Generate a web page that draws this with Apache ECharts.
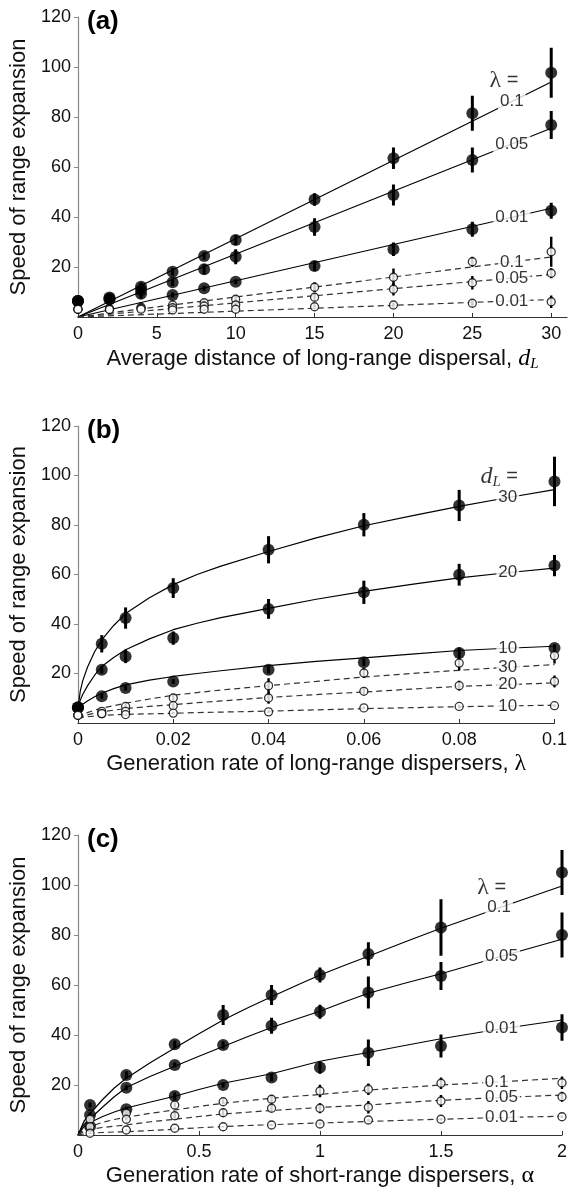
<!DOCTYPE html>
<html><head><meta charset="utf-8">
<script src="https://cdn.jsdelivr.net/npm/echarts@6/dist/echarts.min.js"></script>
<style>html,body{margin:0;padding:0;background:#fff}#c{width:570px;height:1198px}</style>
</head><body><div id="c"></div>
<script>
// ---------- Panel (a): speed vs d_L ----------
const aX = [0, 2, 4, 6, 8, 10, 15, 20, 25, 30];
const aFilled01  = [6.4, 7.8, 12.1, 18.1, 24.4, 30.8, 47.0, 63.5, 81.5, 97.7];
const aFilled005 = [6.4, 7.3, 10.8, 13.9, 19.1, 24.1, 36.0, 48.8, 62.8, 76.8];
const aFilled001 = [6.4, 7.0, 9.3, 8.8, 11.5, 14.1, 20.4, 27.1, 35.1, 42.5];
const aOpen01  = [3.1, 3.3, 3.9, 4.8, 5.7, 7.1, 11.9, 15.9, 22.1, 26.1];
const aOpen005 = [3.1, 3.1, 3.5, 3.7, 4.4, 4.8, 7.9, 11.1, 13.7, 17.5];
const aOpen001 = [3.1, 3.0, 3.1, 2.8, 3.1, 3.1, 4.1, 4.8, 5.5, 6.1];
const aFilled01Err  = [1, 1, 1.5, 1.5, 1.5, 2, 2.5, 4.3, 7, 10];
const aFilled005Err = [1, 1, 3, 1.5, 2, 3, 3.5, 4.2, 5, 5.6];
const aFilled001Err = [1, 1, 2, 1, 1, 1, 2, 2.7, 3, 3.2];
const aOpen01Err  = [0.5, 0.5, 1, 1, 1, 1.5, 2, 3.5, 2, 6];
const aOpen005Err = [0.5, 0.5, 0.5, 0.5, 1, 1, 1.5, 2.5, 2.7, 2];
const aOpen001Err = [0.5, 0.5, 0.5, 0.5, 0.5, 0.5, 1, 1, 1.2, 2.5];
const aLineX = [0, 30];
const aLine01 = [0, 94], aLine005 = [0, 75.5], aLine001 = [0, 43.5];
const aDash01 = [0, 24], aDash005 = [0, 17], aDash001 = [0, 7];
const aTicks = [0, 5, 10, 15, 20, 25, 30];
const aLabelText = ['0.1', '0.05', '0.01', '0.1', '0.05', '0.01'];
const aLabelX = [27.5, 27.5, 27.5, 27.5, 27.5, 27.5];
const aLabelY = [86.2, 69.2, 39.9, 22.0, 15.6, 6.4];

// ---------- Panel (b): speed vs lambda ----------
const bX = [0, 0.005, 0.01, 0.02, 0.04, 0.06, 0.08, 0.1];
const bFilled30 = [6.3, 32.0, 42.4, 54.5, 70.0, 80.1, 87.9, 97.6];
const bFilled20 = [6.3, 21.5, 26.9, 34.3, 46.1, 52.8, 59.9, 63.6];
const bFilled10 = [6.3, 10.8, 14.1, 16.8, 21.5, 24.5, 28.3, 30.3];
const bOpen30 = [3.1, 4.7, 6.7, 10.1, 15.1, 20.2, 24.2, 27.2];
const bOpen20 = [3.1, 3.8, 4.7, 7.0, 10.1, 12.8, 15.1, 16.8];
const bOpen10 = [3.1, 3.8, 3.4, 4.0, 4.5, 6.1, 6.7, 7.0];
const bFilled30Err = [1, 3.5, 4.3, 4, 5.5, 4.7, 6.3, 10];
const bFilled20Err = [1, 1.5, 2.7, 2.7, 4, 4.7, 4.4, 4.3];
const bFilled10Err = [1, 1, 1, 1, 1.5, 1.5, 2.2, 1.5];
const bOpen30Err = [0.5, 1, 1.5, 1.5, 3, 2, 3, 3.2];
const bOpen20Err = [0.5, 0.5, 1, 1, 2.3, 1.5, 2, 2.4];
const bOpen10Err = [0.5, 0.5, 0.5, 0.5, 0.5, 0.5, 0.7, 0.5];
const bCurveX = [0, 0.0005, 0.001, 0.002, 0.0035, 0.005, 0.0075, 0.01, 0.015, 0.02, 0.025, 0.03, 0.04, 0.05, 0.06, 0.07, 0.08, 0.09, 0.1];
const bCurve30 = [6, 13, 17, 22.5, 28.8, 33.6, 39.4, 44.2, 50.6, 55.9, 60, 63.4, 69.3, 74.8, 79.7, 83.7, 87.5, 91.0, 94.3];
const bCurve20 = [6, 9.3, 11.5, 15, 19.3, 22.8, 26.5, 29.6, 34, 37.7, 40.3, 42.6, 46.3, 50, 53.2, 56, 58.6, 60.7, 62.6];
const bCurve10 = [6, 6.9, 7.6, 8.9, 10.6, 12.0, 13.9, 15.4, 17.3, 18.8, 20.0, 21.1, 23.2, 24.9, 26.3, 27.8, 29.3, 30.2, 31];
const bDash30 = [2, 2.8, 3.4, 4.2, 5.2, 6, 7, 8, 9.7, 11.2, 12.3, 13.3, 15.1, 16.8, 18.6, 20, 21.3, 22.5, 23.6];
const bDash20 = [2, 2.4, 2.8, 3.3, 4, 4.5, 5.2, 5.8, 6.7, 7.4, 8.2, 8.9, 10.3, 11.5, 12.5, 13.7, 14.8, 15.5, 16.2];
const bDash10 = [2, 2.1, 2.3, 2.5, 2.8, 3, 3.3, 3.5, 3.7, 3.9, 4.2, 4.4, 4.8, 5.3, 5.8, 6.2, 6.6, 6.9, 7.2];
const bTicks = [0, 0.02, 0.04, 0.06, 0.08, 0.1];
const bLabelText = ['30', '20', '10', '30', '20', '10'];
const bLabelX = [0.0902, 0.0902, 0.0902, 0.0902, 0.0902, 0.0902];
const bLabelY = [91.2, 60.8, 30.3, 22.6, 15.6, 6.9];

// ---------- Panel (c): speed vs alpha ----------
const cX = [0.05, 0.2, 0.4, 0.6, 0.8, 1, 1.2, 1.5, 2];
const cFilled01  = [12, 24, 36.3, 48, 56, 64, 72.4, 83, 105];
const cFilled005 = [8, 18.9, 28, 36, 43.7, 49.3, 57, 63.6, 80];
const cFilled001 = [3.5, 10.3, 15.6, 20, 23, 27, 32.9, 35.6, 43];
const cOpen01  = [6.3, 8.7, 12, 13.3, 14.3, 17.6, 18.3, 20.7, 20.9];
const cOpen005 = [3.3, 6.3, 7.7, 8.9, 10.7, 10.7, 11.1, 13.6, 15.3];
const cOpen001 = [0.7, 2, 2.7, 3.3, 4, 4.4, 6, 6.3, 7.3];
const cFilled01Err  = [1, 1.5, 1.5, 4, 4, 3, 4.7, 11.3, 9];
const cFilled005Err = [1, 1, 1, 1.5, 3.2, 2.8, 6.4, 5.6, 9];
const cFilled001Err = [1, 1, 1.5, 1, 1.5, 2.5, 5.3, 4.6, 5.3];
const cOpen01Err  = [0.5, 0.5, 1, 1, 1.7, 2.5, 2.3, 2.3, 2.5];
const cOpen005Err = [0.5, 0.5, 1.2, 1.7, 1.5, 2, 2.5, 2.4, 2];
const cOpen001Err = [0.3, 0.3, 0.3, 0.3, 0.5, 0.5, 0.5, 0.5, 0.5];
const cCurveX = [0, 0.025, 0.05, 0.1, 0.15, 0.2, 0.3, 0.4, 0.5, 0.6, 0.7, 0.8, 0.9, 1, 1.1, 1.2, 1.35, 1.5, 1.75, 2];
const cCurve01  = [0, 5.5, 8.5, 14, 18.8, 22.7, 29, 34.8, 40.5, 46, 50.8, 55.3, 59.7, 64, 67.8, 71.5, 77.2, 82.7, 91.2, 99.6];
const cCurve005 = [0, 4.3, 6.5, 11, 15.3, 19, 23.5, 27.5, 31.5, 35.4, 39.3, 43, 46.3, 49.5, 53.2, 56.7, 60.7, 64.5, 71.5, 78.3];
const cCurve001 = [0, 3.3, 5, 7.3, 9.2, 10.8, 13.2, 15.5, 18.2, 20.7, 22.6, 24.5, 27, 29.5, 31.3, 33, 35.8, 38.5, 42.5, 46];
const cDash01  = [0, 2.2, 3.3, 5, 6.2, 7.1, 8.7, 10, 11.4, 12.7, 13.7, 14.7, 15.5, 16.2, 17.1, 18, 19, 20, 21.3, 22.7];
const cDash005 = [0, 1.4, 2.2, 3, 3.5, 4, 5.3, 6.3, 7.4, 8.4, 9.1, 9.8, 10.4, 11, 11.5, 12, 13, 13.9, 15, 16];
const cDash001 = [0, 0.4, 0.7, 1, 1.2, 1.3, 1.8, 2.3, 2.9, 3.4, 3.8, 4.1, 4.5, 4.8, 5.1, 5.4, 5.9, 6.3, 7, 7.5];
const cTicks = [0, 0.5, 1, 1.5, 2];
const cLabelText = ['0.1', '0.05', '0.01', '0.1', '0.05', '0.01'];
const cLabelX = [1.74, 1.75, 1.75, 1.73, 1.75, 1.75];
const cLabelY = [91.0, 71.5, 42.5, 21.2, 15.0, 7.0];

const yTicks = [20, 40, 60, 80, 100, 120];

// ---------- build ----------
const FONT = 'Liberation Sans, Arial, Helvetica, sans-serif';
const SERIF = 'Liberation Serif, Times New Roman, serif';
const zip = (xs, ys) => xs.map((x, i) => [x, ys[i]]);
const zip3 = (xs, ys, es) => xs.map((x, i) => [x, ys[i], es[i]]);

const panels = [
  {
    grid: { left: 77, top: 17, width: 490, height: 300 }, xMax: 31, ticks: aTicks, tag: '(a)',
    xName: 'Average distance of long-range dispersal, {i|d}{sub|L}',
    pts: [[aX, aFilled01, aFilled01Err, 1], [aX, aFilled005, aFilled005Err, 1], [aX, aFilled001, aFilled001Err, 1],
          [aX, aOpen01, aOpen01Err, 0], [aX, aOpen005, aOpen005Err, 0], [aX, aOpen001, aOpen001Err, 0]],
    curves: [[aLineX, aLine01, 0], [aLineX, aLine005, 0], [aLineX, aLine001, 0],
             [aLineX, aDash01, 1], [aLineX, aDash005, 1], [aLineX, aDash001, 1]],
    labels: [aLabelX, aLabelY, aLabelText],
    head: { x: 27.0, y: 94.5, text: '{g|λ} =' }
  },
  {
    grid: { left: 77, top: 426, width: 482, height: 297 }, xMax: 0.1, ticks: bTicks, tag: '(b)',
    xName: 'Generation rate of long-range dispersers, {g|λ}',
    pts: [[bX, bFilled30, bFilled30Err, 1], [bX, bFilled20, bFilled20Err, 1], [bX, bFilled10, bFilled10Err, 1],
          [bX, bOpen30, bOpen30Err, 0], [bX, bOpen20, bOpen20Err, 0], [bX, bOpen10, bOpen10Err, 0]],
    curves: [[bCurveX, bCurve30, 0], [bCurveX, bCurve20, 0], [bCurveX, bCurve10, 0],
             [bCurveX, bDash30, 1], [bCurveX, bDash20, 1], [bCurveX, bDash10, 1]],
    labels: [bLabelX, bLabelY, bLabelText],
    head: { x: 0.0884, y: 99.5, text: '{i|d}{sub|L} =' }
  },
  {
    grid: { left: 77, top: 835, width: 487, height: 300 }, xMax: 2, ticks: cTicks, tag: '(c)',
    xName: 'Generation rate of short-range dispersers, {g|α}',
    pts: [[cX, cFilled01, cFilled01Err, 1], [cX, cFilled005, cFilled005Err, 1], [cX, cFilled001, cFilled001Err, 1],
          [cX, cOpen01, cOpen01Err, 0], [cX, cOpen005, cOpen005Err, 0], [cX, cOpen001, cOpen001Err, 0]],
    curves: [[cCurveX, cCurve01, 0], [cCurveX, cCurve005, 0], [cCurveX, cCurve001, 0],
             [cCurveX, cDash01, 1], [cCurveX, cDash005, 1], [cCurveX, cDash001, 1]],
    labels: [cLabelX, cLabelY, cLabelText],
    head: { x: 1.71, y: 99, text: '{g|λ} =' }
  }
];

const richText = {
  g: { fontFamily: SERIF, fontSize: 24, color: '#000' },
  i: { fontFamily: SERIF, fontStyle: 'italic', fontSize: 24, color: '#000' },
  sub: { fontFamily: SERIF, fontStyle: 'italic', fontSize: 15, color: '#000', padding: [11, 0, 0, 0] }
};

const grids = [], xAxes = [], yAxes = [], series = [], graphics = [];
panels.forEach((p, k) => {
  grids.push(Object.assign({ containLabel: false }, p.grid));
  xAxes.push({
    type: 'value', gridIndex: k, min: 0, max: p.xMax,
    axisLine: { show: true, onZero: false, lineStyle: { color: '#333', width: 1.2 } },
    axisTick: { show: true, inside: true, length: 4, lineStyle: { color: '#333' }, customValues: p.ticks },
    axisLabel: { customValues: p.ticks, fontFamily: FONT, fontSize: 18, color: '#111', margin: 8 },
    splitLine: { show: false },
    name: p.xName, nameLocation: 'middle', nameGap: 29,
    nameTextStyle: { fontFamily: FONT, fontSize: 22, color: '#111', rich: richText }
  });
  yAxes.push({
    type: 'value', gridIndex: k, min: 0, max: 120, interval: 20,
    axisLine: { show: true, lineStyle: { color: '#888', width: 1.2 } },
    axisTick: { show: true, inside: false, length: 4, lineStyle: { color: '#888' }, customValues: yTicks },
    axisLabel: { customValues: yTicks, fontFamily: FONT, fontSize: 18, color: '#111', margin: 7 },
    splitLine: { show: false },
    name: 'Speed of range expansion', nameLocation: 'middle', nameGap: 45, nameRotate: 90,
    nameTextStyle: { fontFamily: FONT, fontSize: 22, color: '#111' }
  });
  p.curves.forEach(c => {
    series.push({
      type: 'line', xAxisIndex: k, yAxisIndex: k, data: zip(c[0], c[1]),
      showSymbol: false, symbol: 'none', smooth: false,
      lineStyle: c[2] ? { color: '#333', width: 1.2, type: [6, 4] } : { color: '#000', width: 1.2 },
      z: 2, silent: true, animation: false
    });
  });
  const L = p.labels;
  series.push({
    type: 'scatter', xAxisIndex: k, yAxisIndex: k, symbolSize: 1,
    itemStyle: { color: 'rgba(0,0,0,0)' }, z: 3, silent: true, animation: false,
    data: L[0].map((x, i) => ({
      value: [x, L[1][i]],
      label: { show: true, position: 'inside', formatter: L[2][i], backgroundColor: '#fff',
        padding: [0, 2], fontFamily: FONT, fontSize: 17, color: '#000' }
    }))
  });
  series.push({
    type: 'scatter', xAxisIndex: k, yAxisIndex: k, symbolSize: 1,
    itemStyle: { color: 'rgba(0,0,0,0)' }, z: 3, silent: true, animation: false,
    data: [{ value: [p.head.x, p.head.y],
      label: { show: true, position: 'inside', formatter: p.head.text, fontFamily: FONT, fontSize: 20,
        color: '#000', rich: richText } }]
  });
  p.pts.forEach(s => {
    const filled = s[3] === 1;
    series.push({
      type: 'custom', xAxisIndex: k, yAxisIndex: k, data: zip3(s[0], s[1], s[2]), z: 4, silent: true, animation: false,
      renderItem: (params, api) => {
        const x = api.value(0), y = api.value(1), e = api.value(2);
        const a = api.coord([x, y - e]), b = api.coord([x, y + e]);
        return { type: 'line', shape: { x1: a[0], y1: a[1], x2: b[0], y2: b[1] },
          style: { stroke: '#000', lineWidth: filled ? 3 : 2.4 } };
      }
    });
    series.push({
      type: 'scatter', xAxisIndex: k, yAxisIndex: k, data: zip(s[0], s[1]), z: 5, silent: true, animation: false,
      symbol: 'circle', symbolSize: filled ? 12 : 8,
      itemStyle: filled ? { color: '#000' } : { color: '#fff', borderColor: '#000', borderWidth: 1.3 }
    });
  });
  graphics.push({ type: 'text', left: p.grid.left + 10, top: p.grid.top - 8,
    style: { text: p.tag, fontFamily: FONT, fontWeight: 'bold', fontSize: 26, fill: '#000' } });
});

const chart = echarts.init(document.getElementById('c'), null, { renderer: 'canvas' });
chart.setOption({
  animation: false, backgroundColor: '#fff',
  grid: grids, xAxis: xAxes, yAxis: yAxes, series: series, graphic: graphics
});
</script>
</body></html>
